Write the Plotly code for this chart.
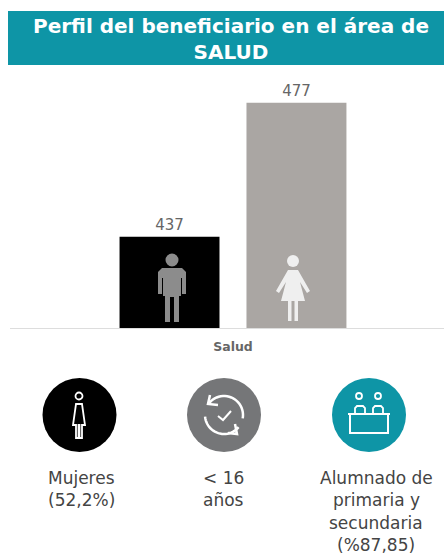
import math
import plotly.graph_objects as go

W, H = 444, 555
categories = ["Salud"]
hombres = [437]
mujeres = [477]
title_text = "Perfil del beneficiario en el área de<br>SALUD"
captions = [["Mujeres", "(52,2%)"], ["&lt; 16", "años"], ["Alumnado de", "primaria y", "secundaria", "(%87,85)"]]

TEAL = "#0e95a6"
FONT = "DejaVu Sans"


def X(x):
    return x / W


def Y(y):
    return 1 - y / H


def path(points, close=False):
    s = "M" + " L".join(f"{X(a):.5f},{Y(b):.5f}" for a, b in points)
    return s + (" Z" if close else "")


def fill_shape(points, color):
    return dict(type="path", xref="paper", yref="paper", path=path(points, True),
                fillcolor=color, line=dict(width=0), layer="above")


def line_shape(points, color="white", width=2, close=False):
    return dict(type="path", xref="paper", yref="paper", path=path(points, close),
                line=dict(color=color, width=width), layer="above")


def circle(cx, cy, r, fill, line=None, width=0):
    return dict(type="circle", xref="paper", yref="paper",
                x0=X(cx - r), x1=X(cx + r), y0=Y(cy + r), y1=Y(cy - r),
                fillcolor=fill, line=dict(color=line or fill, width=width), layer="above")


def arc(cx, cy, r, a0, a1, n=24):
    return [(cx + r * math.cos(math.radians(a0 + (a1 - a0) * i / n)),
             cy + r * math.sin(math.radians(a0 + (a1 - a0) * i / n))) for i in range(n + 1)]


shapes = [
    dict(type="rect", xref="paper", yref="paper", x0=X(8), x1=X(444), y0=Y(65), y1=Y(11),
         fillcolor=TEAL, line=dict(width=0), layer="below"),
]

# man icon in the black bar
MAN = "#8c8c8c"
shapes += [
    circle(172, 260, 6.5, MAN),
    fill_shape([(162, 268), (182, 268), (186, 272), (186, 294), (182, 294), (182, 278),
                (181, 278), (181, 296), (179, 296), (179, 322), (174, 322), (174, 297),
                (170, 297), (170, 322), (165, 322), (165, 296), (163, 296), (163, 278),
                (162, 278), (162, 294), (158, 294), (158, 272)], MAN),
]

# woman icon in the grey bar
WOM = "#efefef"
shapes += [
    circle(293, 261, 6, WOM),
    fill_shape([(288, 270), (298, 270), (310, 291), (307, 293), (300, 282), (305, 301),
                (298, 301), (298, 321), (294.5, 321), (294.5, 301), (291.5, 301), (291.5, 321),
                (288, 321), (288, 301), (281, 301), (286, 282), (279, 293), (276, 291)], WOM),
]

# black circle icon
shapes += [
    circle(79.5, 415, 37, "black"),
    circle(79, 396, 3.5, "black", "white", 1.8),
    line_shape([(76, 404), (82, 404), (85, 425), (82, 425), (82, 438), (79.5, 438), (79.5, 425),
                (78.5, 425), (78.5, 438), (76, 438), (76, 425), (73, 425)], "white", 1.8, True),
]

# grey circle icon
shapes += [
    circle(224, 415, 37, "#757678"),
    line_shape(arc(224, 415, 19, 215, 370), "white", 2.5),
    line_shape(arc(224, 415, 19, 175, 40), "white", 2.5),
    line_shape([(210, 395), (208, 404), (218, 405)], "white", 2.5),
    line_shape([(235, 424), (237, 434), (228, 433)], "white", 2.5),
    line_shape([(218, 416), (223, 420), (231, 411)], "white", 2),
]

# teal circle icon
shapes += [
    circle(369, 415, 37, TEAL),
    circle(359, 396, 3, TEAL, "white", 1.8),
    circle(378, 396, 3, TEAL, "white", 1.8),
    line_shape([(355, 413), (355, 408), (357, 406), (363, 406), (365, 408), (365, 413)], "white", 1.8),
    line_shape([(373, 413), (373, 408), (375, 406), (381, 406), (383, 408), (383, 413)], "white", 1.8),
    line_shape([(348, 414), (390, 414)], "white", 2),
    line_shape([(350, 414), (350, 433), (388, 433), (388, 414)], "white", 2),
]

fig = go.Figure()
fig.add_bar(name="Hombres", x=categories, y=hombres, marker_color="#000000",
            text=hombres, textposition="outside")
fig.add_bar(name="Mujeres", x=categories, y=mujeres, marker_color="#aaa6a3",
            text=mujeres, textposition="outside")
fig.update_traces(textfont=dict(family=FONT, size=15, color="#666666"), cliponaxis=False,
                  marker_line_width=0, hoverinfo="skip")

annotations = [
    dict(text=f"<b>{title_text}</b>", x=X(231), y=Y(39), xref="paper", yref="paper",
         showarrow=False, align="center", xanchor="center", yanchor="middle",
         font=dict(family=FONT, size=20, color="white")),
]
for cx, lines in zip([81, 224, 376], captions):
    for i, line in enumerate(lines):
        annotations.append(dict(text=line, x=X(cx), y=Y(478 + 22.4 * i), xref="paper", yref="paper",
                                showarrow=False, align="center", xanchor="center", yanchor="middle",
                                font=dict(family=FONT, size=17, color="#444444")))

fig.update_layout(
    width=W, height=H, margin=dict(l=0, r=0, t=0, b=0),
    paper_bgcolor="white", plot_bgcolor="white", showlegend=False,
    barmode="group", bargap=0.415, bargroupgap=0.2126,
    shapes=shapes, annotations=annotations,
    xaxis=dict(domain=[X(10), 1], range=[-0.5138, 0.4862], type="category",
               showgrid=False, zeroline=False, showline=True, linecolor="#dddddd", linewidth=1,
               ticks="", ticklabelstandoff=7,
               tickfont=dict(family=FONT, size=12.5, color="#666666", weight="bold")),
    yaxis=dict(domain=[Y(328), Y(70)], range=[409.8, 486.8], visible=False),
)

fig.write_html("out.html", config=dict(displayModeBar=False),
               post_script="document.body.style.margin='0';")
